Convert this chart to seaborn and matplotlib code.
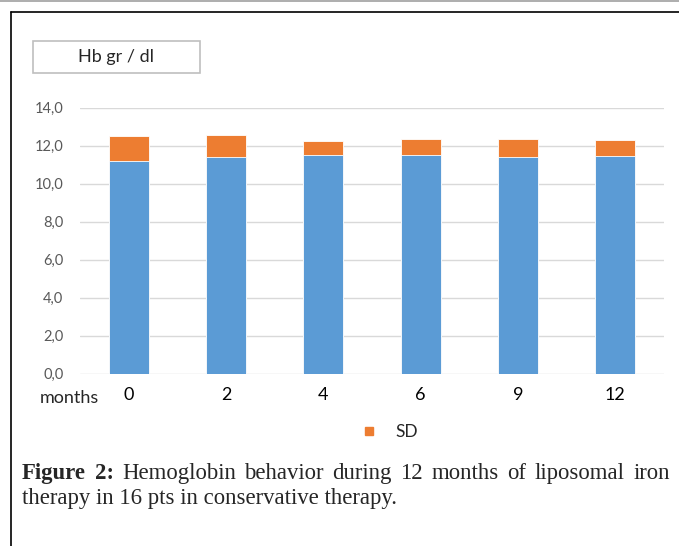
import matplotlib
matplotlib.use("Agg")
import matplotlib.pyplot as plt
import seaborn as sns
import pandas as pd
from matplotlib.patches import Rectangle
from matplotlib.lines import Line2D

# Hb values
months = ["0", "2", "4", "6", "9", "12"]
hb_mean = [11.17, 11.40, 11.52, 11.52, 11.40, 11.45]
hb_sd = [1.33, 1.17, 0.70, 0.84, 0.96, 0.84]
y_ticks = [0, 2, 4, 6, 8, 10, 12, 14]

df = pd.DataFrame({"months": months, "mean": hb_mean, "sd": hb_sd})
df["top"] = df["mean"] + df["sd"]

sns.set_style("white")
plt.rcParams["font.family"] = ["Lato", "DejaVu Sans"]

W, H = 679, 546
fig = plt.figure(figsize=(W / 100, H / 100), dpi=100)


def fx(px):
    return px / W


def fy(py):
    return 1 - py / H


ax = fig.add_axes([fx(80), fy(373.5), fx(664) - fx(80), fy(107.5) - fy(373.5)])

# stacked bars: total (mean + SD) in orange, mean in blue on top
sns.barplot(data=df, x="months", y="top", color="#ED7D31", width=0.41,
            saturation=1, errorbar=None, edgecolor="white", linewidth=0.6, ax=ax)
sns.barplot(data=df, x="months", y="mean", color="#5B9BD5", width=0.41,
            saturation=1, errorbar=None, edgecolor="white", linewidth=0.6, ax=ax)

ax.set_ylim(0, 14)
ax.set_yticks(y_ticks)
ax.set_yticklabels([f"{v:.1f}".replace(".", ",") for v in y_ticks],
                   color="#595959", fontsize=10.5)
ax.tick_params(axis="x", labelsize=13, colors="black", length=0, pad=10)
ax.tick_params(axis="y", length=0, pad=12)
ax.yaxis.grid(True, color="#D9D9D9", linewidth=1)
ax.set_axisbelow(True)
for s in ax.spines.values():
    s.set_visible(False)
ax.set_xlabel("")
ax.set_ylabel("")

fig.text(fx(40), fy(398), "months", fontsize=13, va="center", ha="left")

# legend (only SD)
handle = Line2D([], [], marker="s", color="#ED7D31", linestyle="none", markersize=6)
fig.legend([handle], ["SD"], loc="center", bbox_to_anchor=(fx(385), fy(432)),
           frameon=False, fontsize=12.5, handletextpad=0.5)

# title box
fig.patches.append(Rectangle((fx(33), fy(73)), fx(200) - fx(33), fy(41) - fy(73),
                             transform=fig.transFigure, facecolor="white",
                             edgecolor="#BFBFBF", linewidth=1.2))
fig.text(fx(116.5), fy(57), "Hb gr / dl", fontsize=13, ha="center", va="center")

# page frame lines
fig.lines.append(Line2D([0, 1], [fy(0.7), fy(0.7)], transform=fig.transFigure,
                        color="#A0A0A0", linewidth=1.2))
fig.lines.append(Line2D([fx(11), 1], [fy(11.5), fy(11.5)], transform=fig.transFigure,
                        color="black", linewidth=1.2))
fig.lines.append(Line2D([fx(11), fx(11)], [fy(11.5), 0], transform=fig.transFigure,
                        color="black", linewidth=1.2))

# caption, first line justified
serif = "Liberation Serif"
cap_size = 16.4
line1 = [("Figure", "bold"), ("2:", "bold"), ("Hemoglobin", "normal"), ("behavior", "normal"),
         ("during", "normal"), ("12", "normal"), ("months", "normal"), ("of", "normal"),
         ("liposomal", "normal"), ("iron", "normal")]
renderer = fig.canvas.get_renderer()
words = []
total = 0
for w, wt in line1:
    t = fig.text(0, fy(479), w, family=serif, fontsize=cap_size, weight=wt, va="baseline")
    bb = t.get_window_extent(renderer)
    words.append((t, bb.width))
    total += bb.width
gap = (670 - 22 - total) / (len(words) - 1)
x = 22
for t, wdt in words:
    t.set_x(fx(x))
    x += wdt + gap

fig.text(fx(22), fy(504), "therapy in 16 pts in conservative therapy.", family=serif,
         fontsize=cap_size, va="baseline")

fig.savefig("out.png", dpi=100)
